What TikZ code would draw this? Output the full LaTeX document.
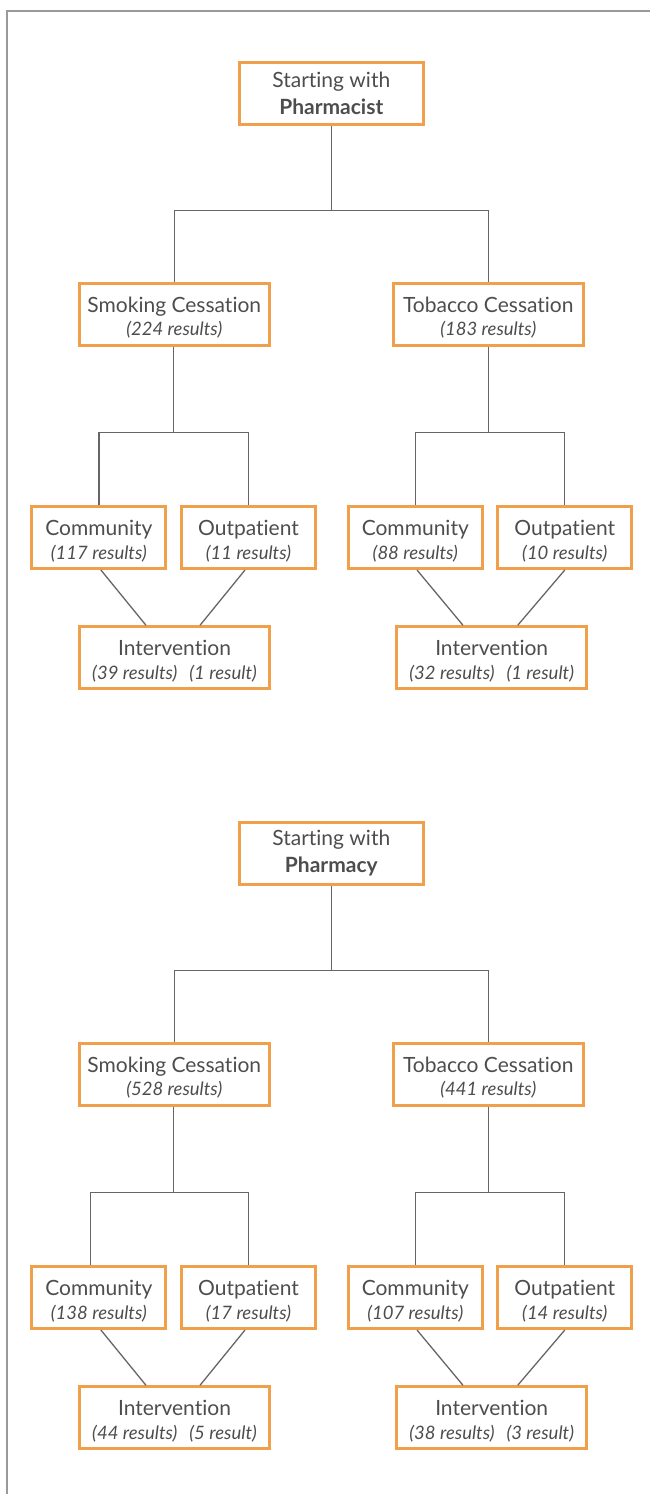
\documentclass[tikz,border=0pt]{standalone}
\usepackage{fontspec}
\setmainfont{Lato}[Ligatures=NoCommon]
\definecolor{boxorange}{HTML}{F0A04B}
\definecolor{txtgray}{HTML}{4D4D4D}
\definecolor{linegray}{HTML}{666666}
\definecolor{framegray}{HTML}{999999}
\begin{document}
\begin{tikzpicture}[x=1pt,y=-1pt,
  bigbox/.style={draw=boxorange,line width=3pt,minimum width=190pt,minimum height=62pt,inner sep=0pt,align=center,text=txtgray,font=\fontsize{21}{23.5}\selectfont},
  smallbox/.style={bigbox,minimum width=134pt},
  topbox/.style={bigbox,minimum width=184pt,font=\fontsize{21}{27}\selectfont},
  conn/.style={draw=linegray,line width=1.3pt},
  frame/.style={draw=framegray,line width=1.5pt}]
\useasboundingbox (0,0) rectangle (650,1494);
\draw[frame] (650,11) -- (7,11) -- (7,1494);
\newcommand\rs[1]{{\fontsize{18.5}{23.5}\selectfont\itshape #1}}
\newcommand\st{\rule{0pt}{22.5pt}}
\foreach \vdy/\vwho/\vsm/\vtb/\vcl/\vol/\vcr/\vorr/\via/\vib/\vic/\vid/\vsh/\vk in
 {0/Pharmacist/224/183/117/11/88/10/39/1/32/1/0/a,
  760/Pharmacy/528/441/138/17/107/14/44/5/38/3/-8.5/b}{
\begin{scope}[yshift=-\vdy pt]
\node[topbox] (top\vk) at (331.3,93.3) {Starting with\\\textbf{\vwho}};
\node[bigbox] (smoke\vk) at (174.3,314.2) {\st Smoking Cessation\\\rs{(\vsm\ results)}};
\node[bigbox] (tob\vk) at (488.3,314.2) {\st Tobacco Cessation\\\rs{(\vtb\ results)}};
\node[smallbox] (comL\vk) at (98.9,537.5) {\st Community\\\rs{(\vcl\ results)}};
\node[smallbox] (outL\vk) at (248.5,537.5) {\st Outpatient\\\rs{(\vol\ results)}};
\node[smallbox] (comR\vk) at (415.3,537.5) {\st Community\\\rs{(\vcr\ results)}};
\node[smallbox] (outR\vk) at (564.8,537.5) {\st Outpatient\\\rs{(\vorr\ results)}};
\node[bigbox] (intL\vk) at (174.5,657.8) {\st Intervention\\\rs{(\via\ results)\hspace{12pt}(\vib\ result)}};
\node[bigbox] (intR\vk) at (491.7,657.8) {\st Intervention\\\rs{(\vic\ results)\hspace{12pt}(\vid\ result)}};
\coordinate (b1\vk) at (331.3,210.7);
\coordinate (b2\vk) at (173.5,432.7);
\coordinate (b3\vk) at (488.3,432.7);
\end{scope}
\draw[conn] (top\vk.south) -- (b1\vk);
\draw[conn] (smoke\vk.north) |- (b1\vk) -| (tob\vk.north);
\draw[conn] ([xshift=-0.8pt]smoke\vk.south) -- (b2\vk);
\draw[conn] ([xshift=\vsh pt]comL\vk.north) |- (b2\vk) -| (outL\vk.north);
\draw[conn] (tob\vk.south) -- (b3\vk);
\draw[conn] (comR\vk.north) |- (b3\vk) -| (outR\vk.north);
\draw[conn] ([xshift=2pt]comL\vk.south) -- ([xshift=-28.5pt]intL\vk.north);
\draw[conn] ([xshift=-3.5pt]outL\vk.south) -- ([xshift=25.5pt]intL\vk.north);
\draw[conn] ([xshift=1.7pt]comR\vk.south) -- ([xshift=-28.7pt]intR\vk.north);
\draw[conn] (outR\vk.south) -- ([xshift=26pt]intR\vk.north);
}
\end{tikzpicture}
\end{document}
